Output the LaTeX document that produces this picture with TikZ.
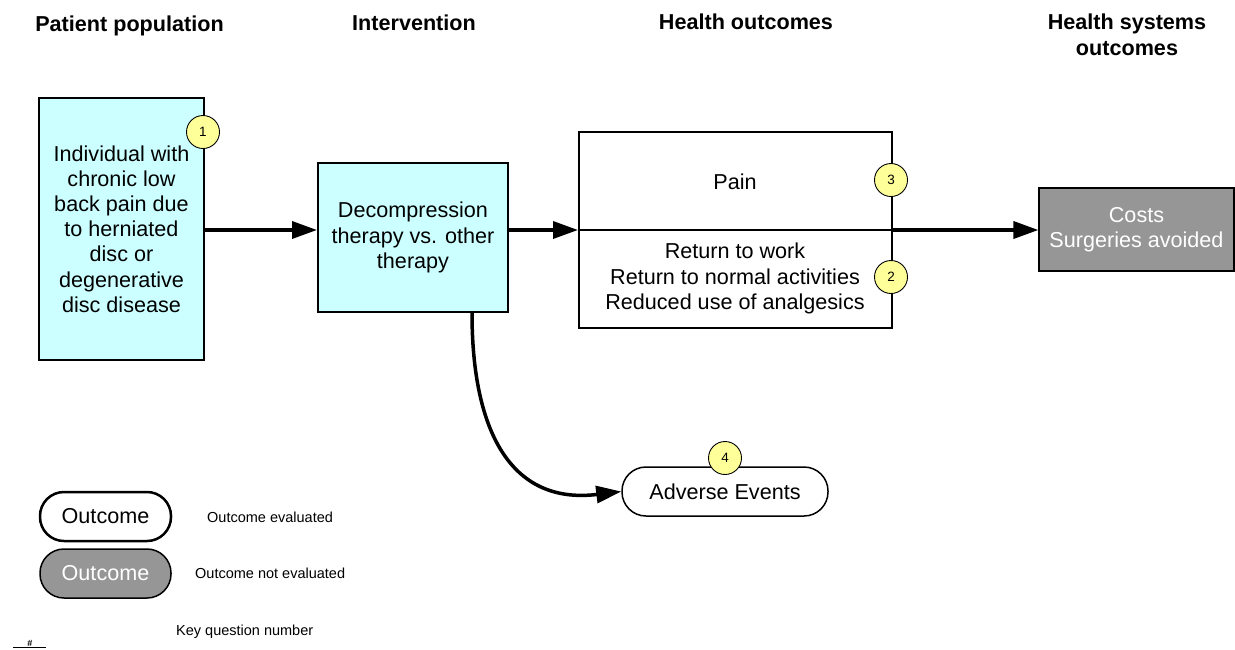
\documentclass[tikz,border=0pt]{standalone}
\usepackage{fontspec}
\setmainfont{Liberation Sans}
\usetikzlibrary{arrows.meta}
\definecolor{boxcyan}{HTML}{CCFFFF}
\definecolor{kqyellow}{HTML}{FFFF99}
\definecolor{outgrey}{HTML}{969696}
\newcommand{\mainsz}{\fontsize{21.6}{25.2}\selectfont}
\newcommand{\smallsz}{\fontsize{14.5}{16}\selectfont}
\tikzset{
  hdr/.style={font=\fontsize{21.6}{24}\selectfont\bfseries, align=center, inner sep=0},
  cyanbox/.style={draw, line width=2pt, fill=boxcyan, align=center, font=\mainsz, inner sep=0},
  kq/.style={circle, draw, line width=0.9pt, fill=kqyellow, minimum size=33pt, inner sep=0, font=\fontsize{13.5}{14}\selectfont},
  flow/.style={line width=3.5pt, -{Triangle[length=25pt,width=17pt]}},
  pill/.style={draw, rounded corners=24pt, minimum height=49pt, inner sep=0, font=\mainsz},
  plain/.style={inner sep=0, font=\mainsz, align=center},
  legtext/.style={inner sep=0, anchor=west, font=\smallsz}
}
\begin{document}
\begin{tikzpicture}[x=1pt,y=-1pt]
\useasboundingbox (0,0) rectangle (1235,649);
% headers
\node[hdr] (h1) at (129.5,26) {Patient population};
\node[hdr] (h2) at (414,23) {Intervention};
\node[hdr] (h3) at (746,22) {Health outcomes};
\node[hdr] (h4) at (1127,35) {Health systems\\[2pt]outcomes};
% boxes
\node[cyanbox, minimum width=165pt, minimum height=262pt] (pop) at (121.5,229)
  {Individual with\\chronic low\\back pain due\\to herniated\\disc or\\degenerative\\disc disease};
\node[cyanbox, minimum width=190pt, minimum height=149pt] (int) at (413,237.5)
  {Decompression\\therapy vs. other\\therapy};
\node[draw, line width=2pt, minimum width=313pt, minimum height=196pt, inner sep=0] (ho) at (735.5,230) {};
\draw[line width=2pt] (ho.west) -- (ho.east);
\node[plain] (pain) at (735,182) {Pain};
\node[plain] (ret) at (735,278.5) {Return to work\\Return to normal activities\\Reduced use of analgesics};
\node[draw, line width=1.2pt, fill=outgrey, text=white, minimum width=195pt, minimum height=83pt, inner sep=0, align=center, font=\mainsz] (cost) at (1136.5,229.5)
  {Costs\\Surgeries avoided};
\node[pill, line width=1.5pt, minimum width=206pt, fill=white] (ae) at (725,491.5) {Adverse Events};
% connectors
\draw[flow] (pop.east |- ho.west) -- (int.west |- ho.west);
\draw[flow] (int.east |- ho.west) -- (ho.west);
\draw[flow] (ho.east) -- (cost.west |- ho.east);
\draw[flow] ([xshift=59pt]int.south) .. controls (472,430) and (510,505) .. (ae.west);
% key question circles
\node[kq] (k1) at (203,132) {1};
\node[kq] (k3) at (891,180) {3};
\node[kq] (k2) at (891,277) {2};
\node[kq] (k4) at (725,458) {4};
% legend
\node[pill, line width=2.5pt, minimum width=131pt] (l1) at (105.5,516.5) {Outcome};
\node[pill, line width=1.5pt, minimum width=131pt, fill=outgrey, text=white] (l2) at (105.5,573.5) {Outcome};
\node[legtext] (t1) at (207,517) {Outcome evaluated};
\node[legtext] (t2) at (195,573) {Outcome not evaluated};
\node[legtext] (t3) at (176,632) {Key question number};
\coordinate (ka) at (13,647.5);
\coordinate (kb) at (46,647.5);
\draw[line width=1.8pt] (ka) -- (kb);
\node[inner sep=0, font=\fontsize{9}{9}\selectfont\bfseries] (hash) at (30,643) {\#};
\end{tikzpicture}
\end{document}
